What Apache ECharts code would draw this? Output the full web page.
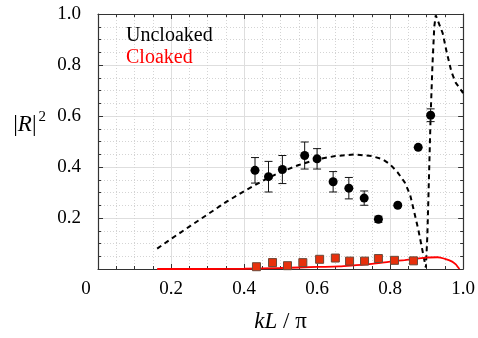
<!DOCTYPE html>
<html>
<head>
<meta charset="utf-8">
<script src="https://cdn.jsdelivr.net/npm/echarts@6/dist/echarts.min.js"></script>
<style>
html,body{margin:0;padding:0;background:#fff;}
#main{width:478px;height:338px;}
</style>
</head>
<body>
<div id="main"></div>
<script>
// Uncloaked measurements
const uncloakedX = [0.430, 0.467, 0.505, 0.566, 0.600, 0.644, 0.687, 0.729, 0.768, 0.821, 0.877, 0.911];
const uncloakedY = [0.387, 0.362, 0.390, 0.445, 0.432, 0.342, 0.317, 0.278, 0.195, 0.250, 0.477, 0.603];
const uncloakedErr = [0.050, 0.060, 0.055, 0.053, 0.040, 0.040, 0.042, 0.028, 0.012, 0.000, 0.000, 0.025];
// Cloaked measurements
const cloakedX = [0.434, 0.478, 0.519, 0.561, 0.607, 0.650, 0.689, 0.730, 0.768, 0.812, 0.864];
const cloakedY = [0.009, 0.025, 0.013, 0.025, 0.038, 0.043, 0.031, 0.031, 0.041, 0.034, 0.032];
const cloakedErr = [0.004, 0.016, 0.005, 0.005, 0.005, 0.004, 0.004, 0.004, 0.006, 0.004, 0.004];
// Uncloaked theory (dashed)
const theoryUX = [0.162, 0.20, 0.25, 0.30, 0.35, 0.40, 0.45, 0.50, 0.55, 0.60, 0.65, 0.70, 0.75, 0.78, 0.80, 0.82, 0.84, 0.855, 0.865, 0.877, 0.886, 0.893, 0.898, 0.900, 0.902, 0.907, 0.911, 0.916, 0.921, 0.925, 0.930, 0.944, 0.955, 0.968, 0.980, 0.991, 1.000];
const theoryUY = [0.080, 0.118, 0.166, 0.214, 0.262, 0.305, 0.345, 0.380, 0.408, 0.430, 0.443, 0.449, 0.443, 0.430, 0.410, 0.380, 0.340, 0.290, 0.230, 0.156, 0.092, 0.040, 0.006, 0.000, 0.130, 0.387, 0.600, 0.800, 0.950, 0.995, 0.990, 0.925, 0.850, 0.773, 0.730, 0.708, 0.690];
// Cloaked theory (solid red)
const theoryCX = [0.162, 0.30, 0.40, 0.50, 0.60, 0.66, 0.70, 0.75, 0.80, 0.84, 0.87, 0.90, 0.93, 0.95, 0.97, 0.98, 0.985, 0.990];
const theoryCY = [0.000, 0.000, 0.001, 0.004, 0.008, 0.010, 0.014, 0.020, 0.029, 0.035, 0.040, 0.045, 0.046, 0.040, 0.029, 0.018, 0.009, 0.000];
// Tick labels
const xTickLabels = {0: '0', 0.2: '0.2', 0.4: '0.4', 0.6: '0.6', 0.8: '0.8', 1: '1.0'};
const yTickLabels = {0: '', 0.2: '0.2', 0.4: '0.4', 0.6: '0.6', 0.8: '0.8', 1: '1.0'};

const FONT = '"Liberation Serif", "Times New Roman", serif';
const zip = (a, b, c) => a.map((v, i) => c ? [v, b[i], c[i]] : [v, b[i]]);

function errorBar(color, capHalf) {
  return function (params, api) {
    const x = api.value(0), y = api.value(1), e = api.value(2);
    if (!e) return null;
    const top = api.coord([x, y + e]);
    const bot = api.coord([x, y - e]);
    const st = {stroke: color, lineWidth: 1};
    return {
      type: 'group',
      children: [
        {type: 'line', shape: {x1: top[0], y1: top[1], x2: bot[0], y2: bot[1]}, style: st},
        {type: 'line', shape: {x1: top[0] - capHalf, y1: top[1], x2: top[0] + capHalf, y2: top[1]}, style: st},
        {type: 'line', shape: {x1: bot[0] - capHalf, y1: bot[1], x2: bot[0] + capHalf, y2: bot[1]}, style: st}
      ]
    };
  };
}

const axisLineStyle = {color: '#333', width: 1.2};
const baseAxis = {
  min: 0, max: 1, interval: 0.2,
  axisLine: {show: true, onZero: false, lineStyle: axisLineStyle},
  axisTick: {show: true, inside: true, length: 5, lineStyle: {color: '#333', width: 1}},
  minorTick: {show: true, splitNumber: 4, length: 3, lineStyle: {color: '#333', width: 1}},
};

const chart = echarts.init(document.getElementById('main'), null, {renderer: 'canvas'});
chart.setOption({
  animation: false,
  backgroundColor: '#fff',
  grid: {left: 98, right: 13, top: 14, bottom: 64, containLabel: false},
  legend: {
    orient: 'vertical', left: 121, top: 26, padding: 0,
    icon: 'none', itemWidth: 0, itemHeight: 0, itemGap: 2,
    selectedMode: false,
    textStyle: {fontFamily: FONT, fontSize: 20},
    data: [
      {name: 'Uncloaked', textStyle: {color: '#000'}},
      {name: 'Cloaked', textStyle: {color: '#ff0000'}}
    ]
  },
  xAxis: [
    Object.assign({}, baseAxis, {
      type: 'value', position: 'bottom',
      name: '{i|kL}{n| / π}', nameLocation: 'middle', nameGap: 41,
      nameTextStyle: {rich: {
        i: {fontFamily: FONT, fontSize: 23, fontStyle: 'italic', color: '#000'},
        n: {fontFamily: FONT, fontSize: 23, color: '#000'}
      }},
      axisLabel: {
        margin: 11, fontFamily: FONT, fontSize: 19, color: '#000',
        formatter: v => {
          const t = xTickLabels[Math.round(v * 10) / 10];
          return v === 0 ? '{z|' + t + '}' : t;
        },
        rich: {z: {fontFamily: FONT, fontSize: 19, color: '#000', padding: [0, 24, 0, 0]}}
      },
      splitLine: {show: true, lineStyle: {color: '#dedede', width: 1}},
      minorSplitLine: {show: true, lineStyle: {color: '#d4d4d4', width: 1, type: [1, 2]}}
    }),
    Object.assign({}, baseAxis, {
      type: 'value', position: 'top',
      axisLabel: {show: false}, splitLine: {show: false}
    })
  ],
  yAxis: [
    Object.assign({}, baseAxis, {
      type: 'value', position: 'left',
      name: '{a||}{r|R}{a||}{s|2}', nameLocation: 'middle', nameRotate: 0, nameGap: 52,
      nameTextStyle: {
        padding: [0, 0, 34, 0],
        rich: {
          a: {fontFamily: FONT, fontSize: 23, color: '#000'},
          r: {fontFamily: FONT, fontSize: 23, fontStyle: 'italic', color: '#000'},
          s: {fontFamily: FONT, fontSize: 15, color: '#000', padding: [0, 0, 14, 2]}
        }
      },
      axisLabel: {
        margin: 17, fontFamily: FONT, fontSize: 19, color: '#000',
        formatter: v => yTickLabels[Math.round(v * 10) / 10]
      },
      splitLine: {show: true, lineStyle: {color: '#dedede', width: 1}},
      minorSplitLine: {show: true, lineStyle: {color: '#d4d4d4', width: 1, type: [1, 2]}}
    }),
    Object.assign({}, baseAxis, {
      type: 'value', position: 'right',
      axisLabel: {show: false}, splitLine: {show: false}
    })
  ],
  series: [
    {
      name: 'Uncloaked', type: 'line', data: zip(theoryUX, theoryUY),
      showSymbol: false, symbol: 'none', clip: true, z: 3,
      lineStyle: {color: '#000', width: 2, type: [5, 4]}
    },
    {
      name: 'Cloaked', type: 'line', data: zip(theoryCX, theoryCY),
      showSymbol: false, symbol: 'none', clip: true, smooth: 0.3, z: 3,
      lineStyle: {color: '#ff0000', width: 1.8}
    },
    {
      name: 'Uncloaked', type: 'custom', data: zip(uncloakedX, uncloakedY, uncloakedErr),
      renderItem: errorBar('#111', 4), z: 4, silent: true
    },
    {
      name: 'Uncloaked', type: 'scatter', data: zip(uncloakedX, uncloakedY),
      symbol: 'circle', symbolSize: 9, z: 5,
      itemStyle: {color: '#000', opacity: 1}
    },
    {
      name: 'Cloaked', type: 'custom', data: zip(cloakedX, cloakedY, cloakedErr),
      renderItem: errorBar('#f07050', 4), z: 4, silent: true
    },
    {
      name: 'Cloaked', type: 'scatter', data: zip(cloakedX, cloakedY),
      symbol: 'rect', symbolSize: 8, z: 5,
      itemStyle: {color: '#e8300c', borderColor: '#6a4a3a', borderWidth: 1, opacity: 1}
    }
  ]
});
</script>
</body>
</html>
